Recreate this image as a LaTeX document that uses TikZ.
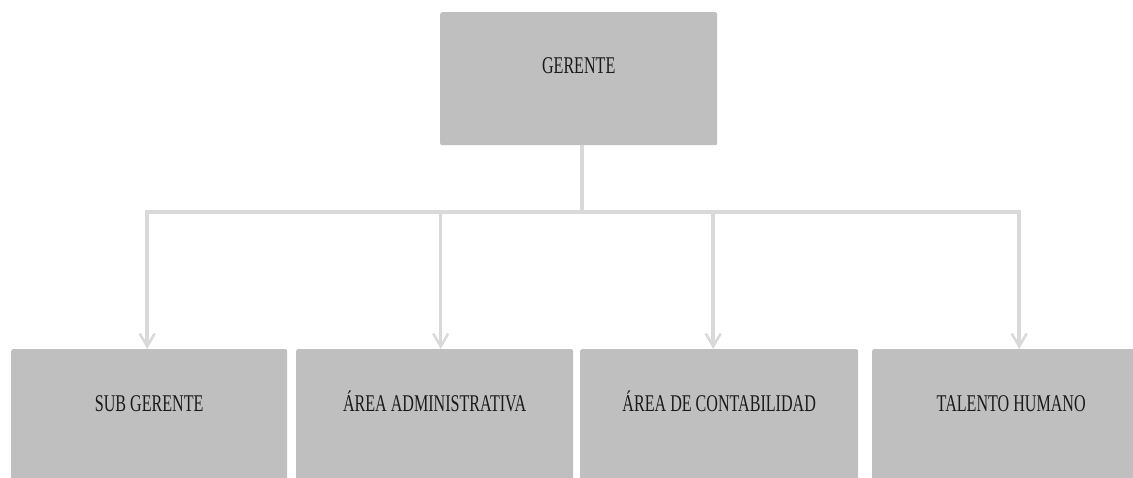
\documentclass[tikz,border=0pt]{standalone}
\usepackage{fontspec}
\newfontfamily\orgfont[FakeStretch=0.67]{Liberation Serif}
\usetikzlibrary{arrows.meta}
\definecolor{boxgray}{HTML}{BFBFBF}
\definecolor{linkgray}{HTML}{D9D9D9}
\definecolor{inkgray}{HTML}{1A1A1A}
\begin{document}
\begin{tikzpicture}[%
    x=1pt, y=-1pt,
    unit/.style={fill=boxgray, rounded corners=2pt, inner sep=0pt,
      anchor=north west, text=inkgray,
      font=\orgfont\fontsize{24}{28}\selectfont},
    lower/.style={unit, text height=62pt, text depth=90pt},
    link/.style={draw=linkgray, line width=3.5pt},
    down/.style={link, -{Straight Barb[length=13pt, width=15pt, line width=2.5pt]}}]
  \useasboundingbox (0,0) rectangle (1133,478);
  \clip (0,0) rectangle (1133,478);
  % top box
  \node[unit, text height=61pt, text depth=72pt, minimum width=277pt] (ger) at (440,12) {GERENTE};
  % bottom row
  \node[lower, minimum width=276pt] (sub) at (11,349) {SUB GERENTE};
  \node[lower, minimum width=277pt] (adm) at (296,349) {ÁREA ADMINISTRATIVA};
  \node[lower, minimum width=278pt] (con) at (580,349) {ÁREA DE CONTABILIDAD};
  \node[lower, minimum width=278pt] (tal) at (872,349) {TALENTO HUMANO};
  \coordinate (bar) at (0,212);
  % connectors
  \draw[link] ([xshift=3.5pt]ger.south) -- ([xshift=3.5pt]ger.south |- bar);
  \draw[link] ([xshift=-4pt]sub.north |- bar) -- ([xshift=10pt]tal.north |- bar);
  \draw[down] ([xshift=-2pt]sub.north |- bar) -- ([xshift=-2pt]sub.north);
  \draw[down] ([xshift=6pt]adm.north |- bar) -- ([xshift=6pt]adm.north);
  \draw[down] ([xshift=-6pt]con.north |- bar) -- ([xshift=-6pt]con.north);
  \draw[down] ([xshift=8pt]tal.north |- bar) -- ([xshift=8pt]tal.north);
\end{tikzpicture}
\end{document}
